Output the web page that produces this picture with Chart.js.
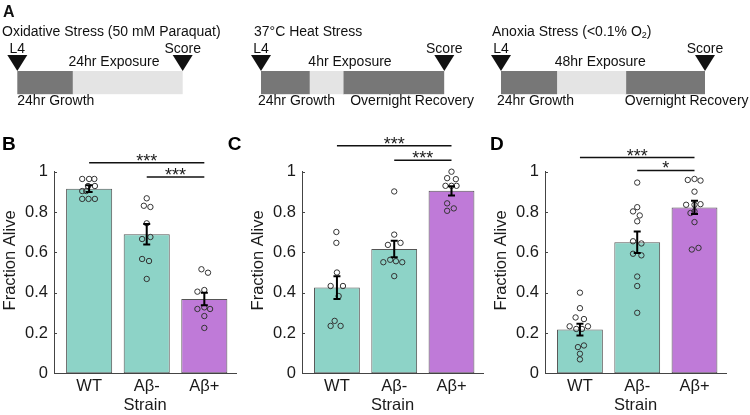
<!DOCTYPE html>
<html>
<head>
<meta charset="utf-8">
<script src="https://cdn.jsdelivr.net/npm/chart.js@4.4.1/dist/chart.umd.min.js"></script>
<style>
  body { margin: 0; background: #fff; }
  #wrap { position: relative; width: 750px; height: 415px; overflow: hidden; }
  canvas { position: absolute; }
</style>
</head>
<body>
<div id="wrap">
  <canvas id="tlOx" width="250" height="110" style="left:0;top:0"></canvas>
  <canvas id="tlHeat" width="240" height="110" style="left:250px;top:0"></canvas>
  <canvas id="tlAnox" width="260" height="110" style="left:490px;top:0"></canvas>
  <canvas id="pB" width="245" height="305" style="left:0;top:110px"></canvas>
  <canvas id="pC" width="271" height="305" style="left:222px;top:110px"></canvas>
  <canvas id="pD" width="250" height="305" style="left:486px;top:110px"></canvas>
</div>
<script>
// ---- data ----
const strainLabels = ['WT', 'Aβ-', 'Aβ+'];
const markerLabels = ['L4', 'Score'];

// panel A schedules (relative bar lengths as drawn)
const oxTitle = 'Oxidative Stress (50 mM Paraquat)';
const oxSegments = [1, 2.0];
const oxTop = ['', '24hr Exposure'];
const oxBottom = ['24hr Growth', ''];

const heatTitle = '37°C Heat Stress';
const heatSegments = [1, 0.70, 2.09];
const heatTop = ['', '4hr Exposure', ''];
const heatBottom = ['24hr Growth', '', 'Overnight Recovery'];

const anoxTitle = 'Anoxia Stress (<0.1% O₂)';
const anoxSegments = [1, 1.24, 1.42];
const anoxTop = ['', '48hr Exposure', ''];
const anoxBottom = ['24hr Growth', '', 'Overnight Recovery'];

// panel B: oxidative stress
const oxMean = [0.916, 0.690, 0.369];
const oxSem = [0.017, 0.051, 0.031];
const oxWT = [0.964, 0.964, 0.964, 0.929, 0.929, 0.904, 0.904, 0.865, 0.865, 0.865];
const oxWTJit = [-0.12, 0, 0.09, -0.02, 0.1, -0.12, -0.05, -0.12, -0.01, 0.1];
const oxNeg = [0.868, 0.831, 0.825, 0.744, 0.666, 0.676, 0.567, 0.557, 0.468];
const oxNegJit = [0, -0.05, 0.064, 0, -0.08, 0.064, -0.08, 0.04, 0];
const oxPos = [0.516, 0.499, 0.405, 0.413, 0.319, 0.327, 0.319, 0.284, 0.225];
const oxPosJit = [-0.05, 0.064, -0.12, 0, -0.12, 0, 0.1, 0, 0];
const oxStars = ['***', '***'];

// panel C: heat stress
const heatMean = [0.425, 0.617, 0.905];
const heatSem = [0.056, 0.041, 0.023];
const heatWT = [0.701, 0.647, 0.50, 0.433, 0.433, 0.383, 0.26, 0.235, 0.235];
const heatWTJit = [-0.01, -0.01, 0, -0.11, 0.105, 0.03, -0.04, -0.11, 0.064];
const heatNeg = [0.902, 0.688, 0.637, 0.647, 0.551, 0.563, 0.556, 0.551, 0.482];
const heatNegJit = [0, 0, -0.11, 0.11, -0.19, -0.07, 0.03, 0.14, 0];
const heatPos = [1.0, 0.968, 0.963, 0.93, 0.93, 0.93, 0.843, 0.818, 0.806];
const heatPosJit = [0, -0.076, 0.076, -0.105, 0, 0.088, -0.076, 0.04, -0.076];
const heatStars = ['***', '***'];

// panel D: anoxia
const anoxMean = [0.217, 0.650, 0.823];
const anoxSem = [0.029, 0.053, 0.033];
const anoxWT = [0.40, 0.323, 0.277, 0.269, 0.233, 0.233, 0.22, 0.22, 0.138, 0.13, 0.097, 0.069];
const anoxWTJit = [0, 0, -0.076, 0.07, -0.18, 0.14, -0.064, 0.035, 0.07, -0.035, 0, 0];
const anoxNeg = [0.946, 0.824, 0.803, 0.783, 0.754, 0.655, 0.644, 0.593, 0.585, 0.48, 0.433, 0.30];
const anoxNegJit = [0, 0, -0.073, 0.044, 0, -0.073, 0.073, -0.073, 0.073, 0, 0, 0];
const anoxPos = [0.959, 0.964, 0.956, 0.901, 0.836, 0.836, 0.839, 0.795, 0.803, 0.75, 0.614, 0.622];
const anoxPosJit = [-0.117, 0, 0.105, 0, -0.146, 0, 0.105, -0.07, 0, 0, -0.047, 0.07];
const anoxStars = ['***', '*'];

// both panels compare WT vs Aβ+ and Aβ- vs Aβ+
const sigPairs = [[1, 3], [2, 3]];

// ---- styles ----
const FONT = '"Liberation Sans", Arial, Helvetica, sans-serif';
const TEXT = '#1a1a1a';
const AXIS = '#444';
const TEAL = '#8dd3c7';
const PURPLE = '#bf7ad8';
const DARK = '#777777';
const LIGHT = '#e4e4e4';

function drawTitle(ctx, text, x, y) {
  // handles the O₂ subscript
  const parts = text.split('₂');
  let cx = x;
  parts.forEach((p, i) => {
    ctx.font = '14px ' + FONT;
    ctx.fillText(p, cx, y);
    cx += ctx.measureText(p).width;
    if (i < parts.length - 1) {
      ctx.font = '9px ' + FONT;
      ctx.fillText('2', cx, y + 4);
      cx += ctx.measureText('2').width;
    }
  });
}

function timeline(id, title, segs, top, bottom, shades, lay) {
  const total = segs.reduce((s, v) => s + v, 0);
  const plugin = {
    id: 'tl_' + id,
    afterDraw(chart) {
      const { ctx, chartArea: a } = chart;
      const xs = chart.scales.x;
      ctx.save();
      ctx.fillStyle = '#111';
      ctx.textBaseline = 'middle';
      ctx.textAlign = 'left';
      if (lay.letter) {
        ctx.font = 'bold 16px ' + FONT;
        ctx.textBaseline = 'alphabetic';
        ctx.fillText(lay.letter, 3, 17.3);
        ctx.textBaseline = 'middle';
      }
      drawTitle(ctx, title, lay.titleX, a.top - 39.3);

      // start / score markers
      [0, total].forEach((v, k) => {
        const px = xs.getPixelForValue(v);
        ctx.beginPath();
        ctx.moveTo(px - 10, a.top - 16);
        ctx.lineTo(px + 10, a.top - 16);
        ctx.lineTo(px, a.top);
        ctx.closePath();
        ctx.fill();
        ctx.font = '14px ' + FONT;
        ctx.textAlign = 'center';
        ctx.fillText(markerLabels[k], px, a.top - 22);
      });

      ctx.textAlign = 'left';
      ctx.font = '14px ' + FONT;
      let cum = 0;
      segs.forEach((v, i) => {
        const sx = xs.getPixelForValue(cum) + lay.nudge[i];
        if (top[i]) ctx.fillText(top[i], sx, a.top - 8.5);
        if (bottom[i]) ctx.fillText(bottom[i], sx, a.bottom + 6.7);
        cum += v;
      });
      ctx.restore();
    }
  };
  return new Chart(document.getElementById(id), {
    type: 'bar',
    data: {
      labels: ['schedule'],
      datasets: segs.map((v, i) => ({
        data: [v],
        backgroundColor: shades[i],
        borderWidth: 0,
        barPercentage: 1,
        categoryPercentage: 1
      }))
    },
    options: {
      indexAxis: 'y',
      responsive: false,
      animation: false,
      layout: { padding: lay.pad },
      scales: {
        x: { stacked: true, display: false, min: 0, max: total },
        y: { stacked: true, display: false }
      },
      plugins: { legend: { display: false }, tooltip: { enabled: false } }
    },
    plugins: [plugin]
  });
}

function strainPanel(id, means, sems, groups, jitters, stars, cfg) {
  const dots = [];
  groups.forEach((g, i) => g.forEach((v, j) => dots.push({ x: i + 1 + jitters[i][j], y: v })));
  const tickFont = { family: FONT, size: 16.5 };

  const plugin = {
    id: 'panel_' + id,
    afterDatasetsDraw(chart) {
      const { ctx } = chart;
      const xs = chart.scales.x, ys = chart.scales.y;
      ctx.save();
      ctx.strokeStyle = '#000';
      ctx.lineWidth = 2;
      means.forEach((m, i) => {
        const x = xs.getPixelForValue(i + 1);
        const y1 = ys.getPixelForValue(m + sems[i]);
        const y2 = ys.getPixelForValue(m - sems[i]);
        ctx.beginPath();
        ctx.moveTo(x, y1); ctx.lineTo(x, y2);
        ctx.moveTo(x - 3.5, y1); ctx.lineTo(x + 3.5, y1);
        ctx.moveTo(x - 3.5, y2); ctx.lineTo(x + 3.5, y2);
        ctx.stroke();
      });
      ctx.restore();
    },
    afterDraw(chart) {
      const { ctx, chartArea: a } = chart;
      const xs = chart.scales.x, ys = chart.scales.y;
      ctx.save();
      // inward y ticks
      ctx.strokeStyle = AXIS;
      ctx.lineWidth = 1;
      ys.ticks.forEach(t => {
        const y = Math.round(ys.getPixelForValue(t.value)) + 0.5;
        ctx.beginPath();
        ctx.moveTo(a.left, y); ctx.lineTo(a.left + 3, y);
        ctx.stroke();
      });
      // y title
      ctx.fillStyle = TEXT;
      ctx.font = '16.5px ' + FONT;
      ctx.textAlign = 'center';
      ctx.textBaseline = 'middle';
      ctx.save();
      ctx.translate(a.left - 44, ys.getPixelForValue(0.56));
      ctx.rotate(-Math.PI / 2);
      ctx.fillText('Fraction Alive', 0, 0);
      ctx.restore();
      // significance brackets
      ctx.strokeStyle = '#111';
      ctx.lineWidth = 1.5;
      ctx.font = '18px ' + FONT;
      ctx.textBaseline = 'alphabetic';
      sigPairs.forEach((p, k) => {
        const x1 = xs.getPixelForValue(p[0]);
        const x2 = xs.getPixelForValue(p[1]);
        const y = ys.getPixelForValue(cfg.sigHeights[k]);
        ctx.beginPath();
        ctx.moveTo(x1, y); ctx.lineTo(x2, y);
        ctx.stroke();
        ctx.fillText(stars[k], (x1 + x2) / 2, y + 4);
      });
      // panel letter
      ctx.fillStyle = '#000';
      ctx.font = 'bold 19px ' + FONT;
      ctx.textAlign = 'left';
      ctx.fillText(cfg.letter, cfg.letterX, 40);
      ctx.restore();
    }
  };

  return new Chart(document.getElementById(id), {
    type: 'bar',
    data: {
      datasets: [
        {
          type: 'scatter',
          data: dots,
          order: 1,
          pointRadius: 2.7,
          pointBorderWidth: 1,
          pointBackgroundColor: 'rgba(0,0,0,0)',
          pointBorderColor: '#333',
          clip: false
        },
        {
          type: 'bar',
          data: means.map((v, i) => ({ x: i + 1, y: v })),
          order: 2,
          backgroundColor: [TEAL, TEAL, PURPLE],
          borderColor: '#555',
          borderWidth: 1,
          borderSkipped: false,
          barPercentage: 0.8,
          categoryPercentage: 1
        }
      ]
    },
    options: {
      responsive: false,
      animation: false,
      layout: { padding: { top: 61.7, right: cfg.padRight, left: 0, bottom: 0 } },
      scales: {
        x: {
          type: 'linear',
          min: 0.39,
          max: 3.55,
          offset: false,
          afterFit: s => { s.height = 41.7; },
          afterBuildTicks: s => { s.ticks = strainLabels.map((_, i) => ({ value: i + 1 })); },
          ticks: {
            callback: v => strainLabels[v - 1],
            font: tickFont, color: TEXT, padding: 3, maxRotation: 0, autoSkip: false
          },
          grid: { display: false, drawTicks: false },
          border: { display: true, color: AXIS, width: 1 },
          title: { display: true, text: 'Strain', font: tickFont, color: TEXT, padding: 0 }
        },
        y: {
          min: 0,
          max: 1,
          afterFit: s => { s.width = cfg.yWidth; },
          ticks: {
            stepSize: 0.2,
            callback: v => String(+v.toFixed(1)),
            font: tickFont, color: TEXT, padding: 6
          },
          grid: { display: false, drawTicks: false },
          border: { display: true, color: AXIS, width: 1 }
        }
      },
      plugins: { legend: { display: false }, tooltip: { enabled: false } }
    },
    plugins: [plugin]
  });
}

timeline('tlOx', oxTitle, oxSegments, oxTop, oxBottom, [DARK, LIGHT],
  { pad: { left: 17.3, right: 67.3, top: 71, bottom: 15.7 }, titleX: 2, nudge: [0, -4], letter: 'A' });
timeline('tlHeat', heatTitle, heatSegments, heatTop, heatBottom, [DARK, LIGHT, DARK],
  { pad: { left: 11, right: 45.7, top: 71, bottom: 15.7 }, titleX: 4, nudge: [-3, -1, 7] });
timeline('tlAnox', anoxTitle, anoxSegments, anoxTop, anoxBottom, [DARK, LIGHT, DARK],
  { pad: { left: 11, right: 45, top: 71, bottom: 15.7 }, titleX: 2, nudge: [-4, -2, -1] });

strainPanel('pB', oxMean, oxSem, [oxWT, oxNeg, oxPos], [oxWTJit, oxNegJit, oxPosJit], oxStars,
  { yWidth: 54, padRight: 9, sigHeights: [1.045, 0.974], letter: 'B', letterX: 2 });
strainPanel('pC', heatMean, heatSem, [heatWT, heatNeg, heatPos], [heatWTJit, heatNegJit, heatPosJit], heatStars,
  { yWidth: 80, padRight: 10, sigHeights: [1.129, 1.057], letter: 'C', letterX: 5.7 });
strainPanel('pD', anoxMean, anoxSem, [anoxWT, anoxNeg, anoxPos], [anoxWTJit, anoxNegJit, anoxPosJit], anoxStars,
  { yWidth: 59, padRight: 10, sigHeights: [1.07, 1.006], letter: 'D', letterX: 4 });
</script>
</body>
</html>
